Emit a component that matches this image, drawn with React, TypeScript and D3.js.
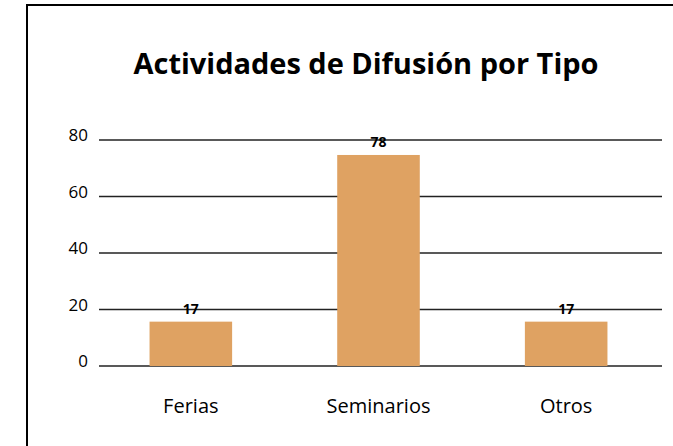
import React from "react";
import * as d3 from "d3";

const categories: string[] = ["Ferias", "Seminarios", "Otros"];
const barValues: number[] = [15.7, 74.7, 15.7];
const valueLabels: string[] = ["17", "78", "17"];
const yTicks: number[] = [0, 20, 40, 60, 80];
const title = "Actividades de Difusión por Tipo";

const W = 673;
const H = 446;

export default function App() {
  const x = d3.scaleBand<string>().domain(categories).range([97, 660]).paddingInner(0.56).paddingOuter(0.28);
  const y = d3.scaleLinear().domain([0, 80]).range([366, 140]);
  const font = "'Open Sans', 'Noto Sans', sans-serif";
  return (
    <svg width={W} height={H} style={{ position: "absolute", left: 0, top: 0 }} fontFamily={font}>
      <rect x={0} y={0} width={W} height={H} fill="#fff" />
      <line x1={27} x2={W} y1={5} y2={5} stroke="#000" strokeWidth={2} />
      <line x1={27} x2={27} y1={4} y2={H} stroke="#000" strokeWidth={2} />
      <text x={366} y={74} textAnchor="middle" fontSize={28} fontWeight={700} fill="#000" textLength={465} lengthAdjust="spacingAndGlyphs">{title}</text>
      {yTicks.map((t) => (
        <g key={t}>
          <line x1={99} x2={662} y1={y(t)} y2={y(t)} stroke="#222" strokeWidth={1.4} />
          <text x={88} y={y(t) + 1} textAnchor="end" fontSize={17} fill="#000">{t}</text>
        </g>
      ))}
      {categories.map((c, i) => (
        <g key={c}>
          <rect x={x(c)} y={y(barValues[i])} width={x.bandwidth()} height={y(0) - y(barValues[i])} fill="#DFA262" />
          <text x={(x(c) as number) + x.bandwidth() / 2} y={y(barValues[i]) - 8} textAnchor="middle" fontSize={14} fontWeight={700} fill="#000">{valueLabels[i]}</text>
          <text x={(x(c) as number) + x.bandwidth() / 2} y={413} textAnchor="middle" fontSize={20} fill="#000">{c}</text>
        </g>
      ))}
    </svg>
  );
}
